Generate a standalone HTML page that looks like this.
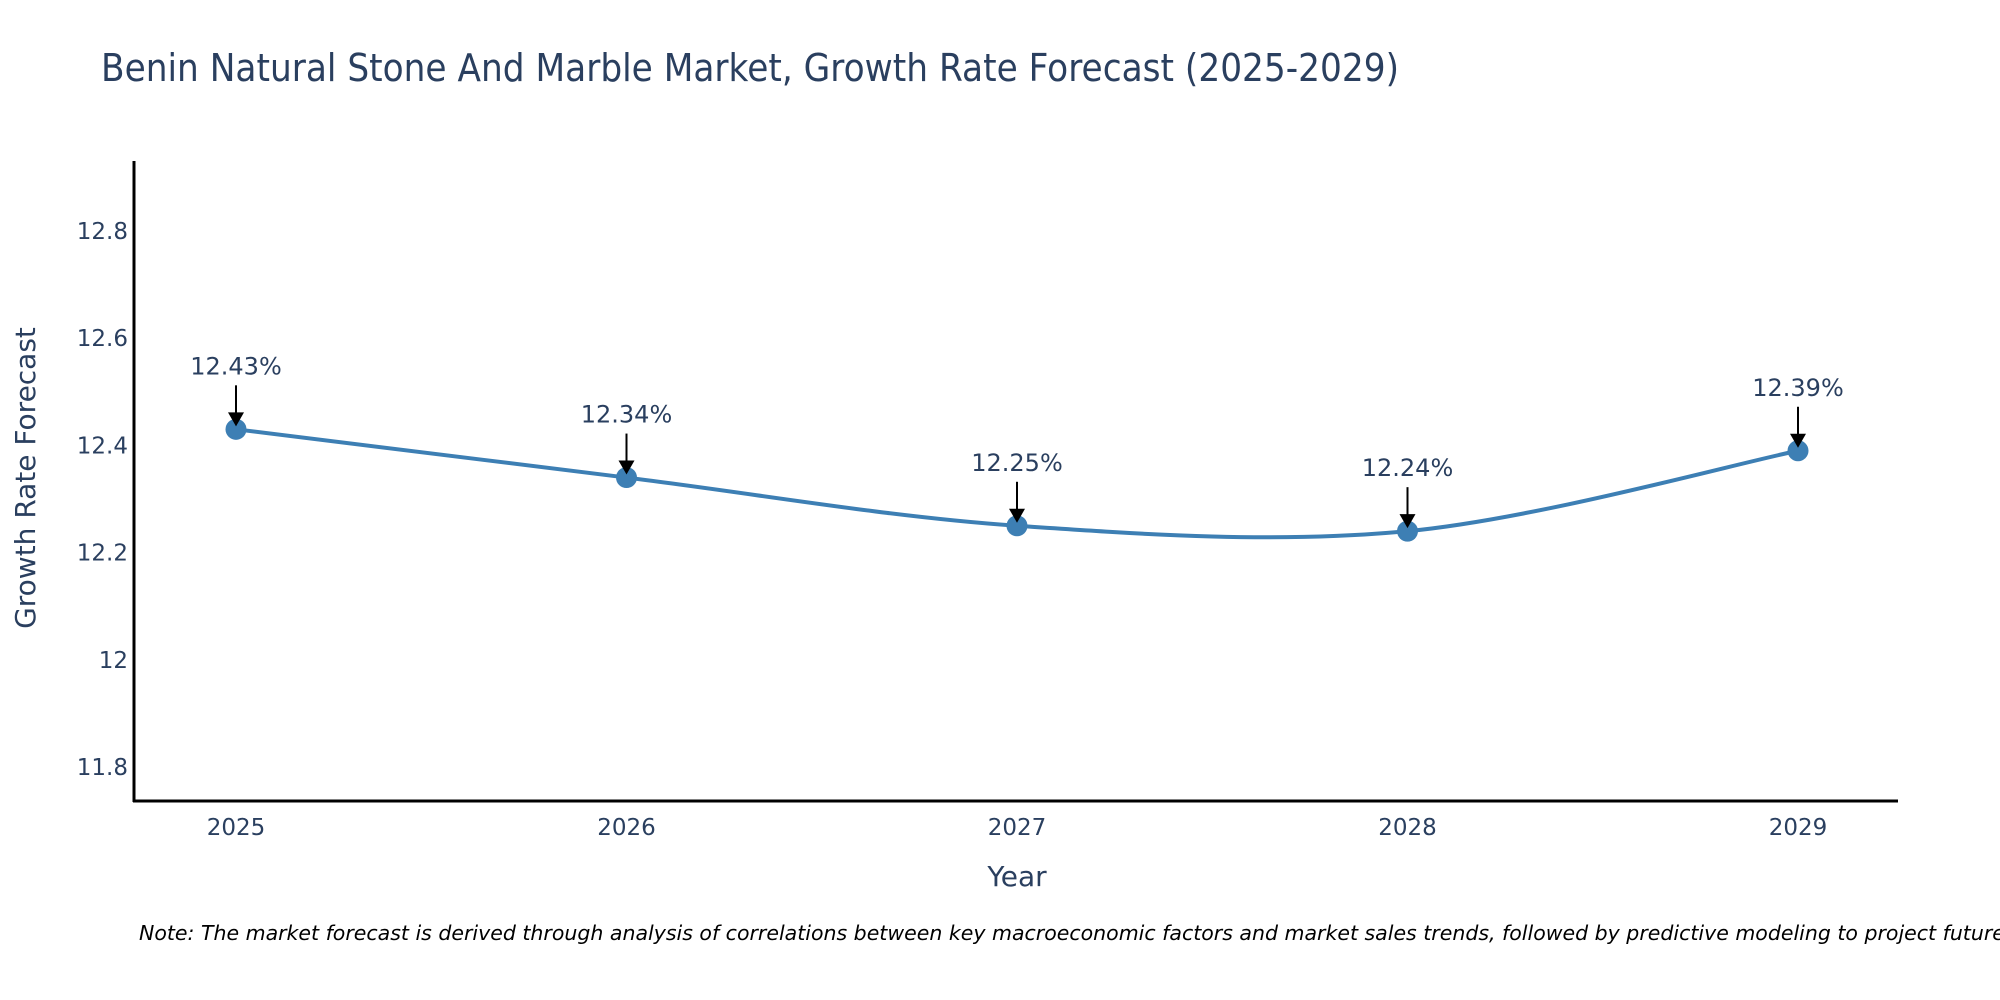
<!DOCTYPE html>
<html><head><meta charset="utf-8"><style>
body{margin:0;background:#fff;}
svg{display:block;font-family:"Liberation Sans",sans-serif;}
</style></head><body>
<svg id="chart" width="2000" height="1000" viewBox="0 0 2000 1000">
<rect width="2000" height="1000" fill="#fff"/>
<text x="101" y="81" font-size="38" fill="#2a3f5f" font-family="DejaVu Sans, sans-serif" textLength="1298" lengthAdjust="spacingAndGlyphs">Benin Natural Stone And Marble Market, Growth Rate Forecast (2025-2029)</text>
<g id="yticks"></g>
<g id="xticks"></g>
<line x1="134" y1="161" x2="134" y2="802" stroke="#000" stroke-width="3"/>
<line x1="133" y1="801" x2="1898" y2="801" stroke="#000" stroke-width="3"/>
<g id="series"></g>
<g id="annots"></g>
<text x="1017" y="886" font-size="28" fill="#2a3f5f" font-family="DejaVu Sans, sans-serif" text-anchor="middle">Year</text>
<text x="0" y="0" font-size="28" fill="#2a3f5f" font-family="DejaVu Sans, sans-serif" text-anchor="middle" transform="translate(35,478) rotate(-90)">Growth Rate Forecast</text>
<text x="139" y="940" font-size="20.5" font-style="italic" fill="#000" font-family="DejaVu Sans, sans-serif">Note: The market forecast is derived through analysis of correlations between key macroeconomic factors and market sales trends, followed by predictive modeling to project future sales.</text>
</svg>
<script>
const years = [2025, 2026, 2027, 2028, 2029];
const values = [12.43, 12.34, 12.25, 12.24, 12.39];
const labels = ["12.43%", "12.34%", "12.25%", "12.24%", "12.39%"];
const yTicks = [11.8, 12, 12.2, 12.4, 12.6, 12.8];
const yTickLabels = ["11.8", "12", "12.2", "12.4", "12.6", "12.8"];

const NS = "http://www.w3.org/2000/svg";
function xs(yr){ return 236 + (yr - 2025) * 390.5; }
function ys(v){ return 767 - (v - 11.8) * 536; }
function mk(tag, attrs, parent){ const e=document.createElementNS(NS,tag); for(const k in attrs) e.setAttribute(k,attrs[k]); parent.appendChild(e); return e; }

const yt=document.getElementById('yticks');
yTicks.forEach((t,i)=>{
  const el=mk('text',{x:128,y:ys(t)+8,'font-size':23,fill:'#2a3f5f','text-anchor':'end','font-family':'DejaVu Sans, sans-serif'},yt);
  el.textContent=yTickLabels[i];
  
  
});
const xt=document.getElementById('xticks');
years.forEach(y=>{
  const el=mk('text',{x:xs(y),y:835,'font-size':23,fill:'#2a3f5f','text-anchor':'middle','font-family':'DejaVu Sans, sans-serif'},xt);
  el.textContent=String(y);
  
  
});

const pts=years.map((y,i)=>[xs(y),ys(values[i])]);
let d=`M${pts[0][0]},${pts[0][1]}`;
const s=0.5;
for(let i=0;i<pts.length-1;i++){
  const p0=pts[Math.max(i-1,0)],p1=pts[i],p2=pts[i+1],p3=pts[Math.min(i+2,pts.length-1)];
  const c1=[p1[0]+(p2[0]-p0[0])*s/3,p1[1]+(p2[1]-p0[1])*s/3];
  const c2=[p2[0]-(p3[0]-p1[0])*s/3,p2[1]-(p3[1]-p1[1])*s/3];
  d+=` C${c1[0]},${c1[1]} ${c2[0]},${c2[1]} ${p2[0]},${p2[1]}`;
}
const ser=document.getElementById('series');
const line=mk('path',{d:d,fill:'none',stroke:'#3d7fb4','stroke-width':4},ser);


pts.forEach(p=>{
  const c=mk('circle',{cx:p[0],cy:p[1],r:10.5,fill:'#3d7fb4'},ser);
  
  
});
const an=document.getElementById('annots');
pts.forEach((p,i)=>{
  const l=mk('line',{x1:p[0],y1:p[1]-44,x2:p[0],y2:p[1]-14,stroke:'#000','stroke-width':2},an);
  
  
  const h=mk('polygon',{points:`${p[0]-8},${p[1]-17} ${p[0]+8},${p[1]-17} ${p[0]},${p[1]-3}`,fill:'#000'},an);
  
  
  const t=mk('text',{x:p[0],y:p[1]-55,'font-size':24,fill:'#2a3f5f','text-anchor':'middle','font-family':'DejaVu Sans, sans-serif'},an);
  t.textContent=labels[i];
  
  
});
</script>
</body></html>
